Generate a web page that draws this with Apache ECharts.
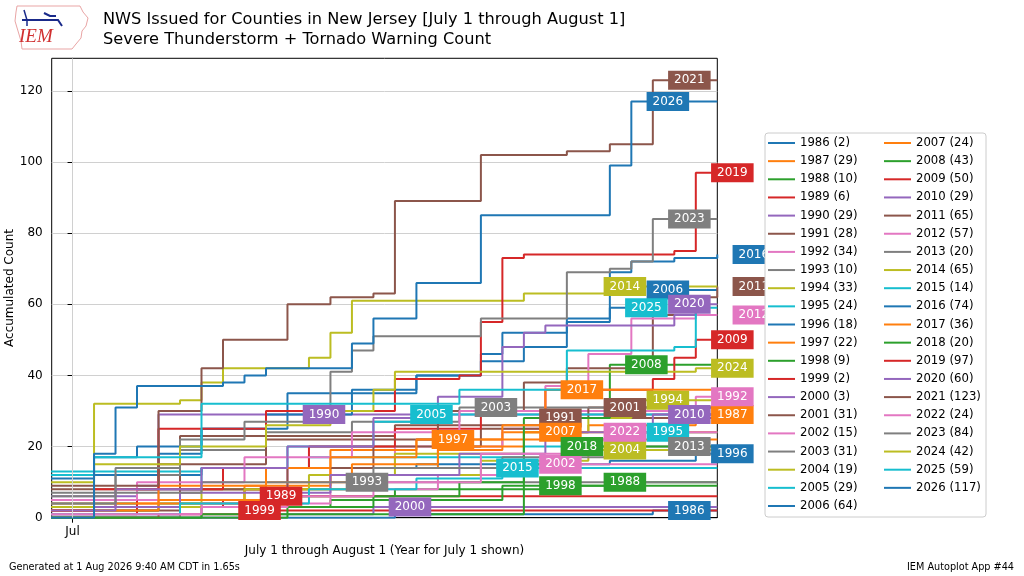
<!DOCTYPE html>
<html>
<head>
<meta charset="utf-8">
<title>NWS Warning Count</title>
<script src="https://cdn.jsdelivr.net/npm/echarts@6.0.0/dist/echarts.min.js"></script>
<style>
    html, body { margin: 0; padding: 0; background: #fff; }
    #chart { width: 1024px; height: 576px; }
</style>
</head>
<body>
<div id="chart"></div>
<script>
// years and final totals (from the legend)
var years = [1986, 1987, 1988, 1989, 1990, 1991, 1992, 1993, 1994, 1995,
    1996, 1997, 1998, 1999, 2000, 2001, 2002, 2003, 2004, 2005,
    2006, 2007, 2008, 2009, 2010, 2011, 2012, 2013, 2014, 2015,
    2016, 2017, 2018, 2019, 2020, 2021, 2022, 2023, 2024, 2025, 2026];
var totals = [2, 29, 10, 6, 29, 28, 34, 10, 33, 24,
    18, 22, 9, 2, 3, 31, 15, 31, 19, 29,
    64, 24, 43, 50, 29, 65, 57, 20, 65, 14,
    74, 36, 20, 97, 60, 123, 24, 84, 42, 59, 117];
// day (0 = Jul 1) where each year's tag is drawn
var labelDay = [28.7, 30.7, 25.7, 9.7, 11.7, 22.7, 30.7, 13.7, 27.7, 27.7,
    30.7, 17.7, 22.7, 8.7, 15.7, 25.7, 22.7, 19.7, 25.7, 16.7,
    27.7, 22.7, 26.7, 30.7, 28.7, 31.7, 31.7, 28.7, 25.7, 20.7,
    31.7, 23.7, 23.7, 30.7, 28.7, 28.7, 25.7, 28.7, 30.7, 26.7, 27.7];
var yTicks = [0, 20, 40, 60, 80, 100, 120];

// accumulated count steps: [day, count from that day on]
var y1986 = [[-1, 0], [15, 1], [27, 2]];
var y1987 = [[-1, 3], [2, 5], [8, 9], [12, 14], [17, 19], [20, 24], [24, 26], [29, 29]];
var y1988 = [[-1, 2], [4, 4], [9, 6], [15, 8], [20, 9], [25, 10]];
var y1989 = [[-1, 1], [3, 3], [7, 5], [9, 6]];
var y1990 = [[-1, 6], [3, 9], [4, 29]];
var y1991 = [[-1, 0], [5, 23], [15, 26], [22, 28]];
var y1992 = [[-1, 5], [4, 8], [10, 14], [15, 20], [20, 25], [23, 30], [29, 34]];
var y1993 = [[-1, 0], [5, 8], [13, 10]];
var y1994 = [[-1, 3], [6, 8], [11, 12], [15, 18], [21, 24], [24, 28], [26, 33]];
var y1995 = [[-1, 13], [6, 14], [11, 17], [21, 20], [25, 24]];
var y1996 = [[-1, 12], [6, 14], [16, 15], [25, 16], [29, 18]];
var y1997 = [[-1, 3], [2, 4], [8, 8], [12, 19], [16, 22]];
var y1998 = [[-1, 0], [6, 3], [12, 5], [20, 8], [23, 9]];
var y1999 = [[-1, 0], [4, 1], [8, 2]];
var y2000 = [[-1, 0], [8, 1], [14, 3]];
var y2001 = [[-1, 2], [5, 8], [10, 14], [14, 20], [19, 25], [22, 28], [24, 31]];
var y2002 = [[-1, 1], [6, 4], [12, 8], [17, 12], [21, 15]];
var y2003 = [[-1, 6], [2, 12], [5, 19], [9, 24], [13, 27], [18, 31]];
var y2004 = [[-1, 3], [8, 8], [13, 12], [19, 16], [24, 19]];
var y2005 = [[-1, 4], [3, 8], [6, 14], [10, 20], [14, 27], [16, 29]];
var y2006 = [[-1, 12], [4, 18], [6, 25], [10, 35], [16, 40], [19, 46], [20, 52], [23, 55], [25, 59], [27, 64]];
var y2007 = [[-1, 2], [4, 5], [9, 10], [13, 15], [17, 20], [21, 24]];
var y2008 = [[-1, 0], [6, 1], [21, 28], [25, 43]];
var y2009 = [[-1, 3], [3, 8], [7, 14], [11, 20], [15, 25], [19, 30], [22, 36], [27, 39], [28, 45], [29, 50]];
var y2010 = [[-1, 3], [5, 7], [12, 12], [18, 18], [22, 24], [27, 29]];
var y2011 = [[-1, 8], [4, 15], [9, 22], [17, 30], [21, 38], [23, 42], [27, 57], [29, 62], [30, 65]];
var y2012 = [[-1, 5], [3, 10], [8, 17], [13, 24], [18, 30], [22, 37], [24, 46], [26, 56], [29, 57]];
var y2013 = [[-1, 7], [6, 10], [14, 14], [20, 17], [26, 20]];
var y2014 = [[-1, 3], [1, 32], [5, 33], [6, 38], [7, 42], [11, 45], [12, 52], [13, 61], [21, 63], [25, 65]];
var y2015 = [[-1, 1], [5, 4], [11, 8], [16, 11], [20, 14]];
var y2016 = [[-1, 11], [1, 17], [3, 20], [6, 25], [9, 29], [13, 36], [16, 40], [19, 44], [21, 48], [23, 56], [25, 69], [26, 72], [28, 73], [30, 74]];
var y2017 = [[-1, 4], [4, 9], [9, 14], [12, 17], [16, 22], [20, 26], [22, 36]];
var y2018 = [[-1, 0], [10, 3], [14, 6], [18, 10], [21, 15], [23, 20]];
var y2019 = [[-1, 2], [1, 8], [4, 25], [9, 30], [15, 39], [18, 40], [19, 55], [20, 73], [21, 74], [28, 75], [29, 97]];
var y2020 = [[-1, 2], [2, 8], [6, 14], [10, 20], [14, 28], [17, 34], [20, 48], [21, 52], [22, 54], [28, 57], [29, 60]];
var y2021 = [[-1, 9], [4, 30], [6, 42], [7, 50], [10, 60], [12, 62], [14, 63], [15, 89], [19, 102], [23, 103], [25, 105], [27, 123]];
var y2022 = [[-1, 1], [6, 3], [10, 6], [14, 10], [19, 18], [23, 22], [25, 24]];
var y2023 = [[-1, 4], [2, 14], [5, 22], [8, 27], [12, 41], [13, 47], [14, 51], [19, 56], [23, 69], [25, 70], [26, 72], [27, 84]];
var y2024 = [[-1, 10], [1, 15], [5, 20], [9, 26], [12, 30], [14, 36], [15, 41], [29, 42]];
var y2025 = [[-1, 12], [1, 17], [6, 32], [18, 36], [23, 47], [28, 48], [29, 59]];
var y2026 = [[-1, 0], [1, 18], [2, 31], [3, 37], [7, 38], [8, 40], [9, 42], [13, 49], [14, 56], [16, 66], [19, 85], [25, 99], [26, 117]];

var stepData = [y1986, y1987, y1988, y1989, y1990, y1991, y1992, y1993, y1994, y1995,
    y1996, y1997, y1998, y1999, y2000, y2001, y2002, y2003, y2004, y2005,
    y2006, y2007, y2008, y2009, y2010, y2011, y2012, y2013, y2014, y2015,
    y2016, y2017, y2018, y2019, y2020, y2021, y2022, y2023, y2024, y2025, y2026];

var palette = ['#1f77b4', '#ff7f0e', '#2ca02c', '#d62728', '#9467bd',
    '#8c564b', '#e377c2', '#7f7f7f', '#bcbd22', '#17becf'];
var X_MIN = -0.97, X_END = 30;
var FONT = 'DejaVu Sans';

function $each(arr, fn) { for (var i = 0; i < arr.length; i++) fn(i, arr[i]); }

var series = [];
// dummy series only for the Jul grid line
series.push({
    type: 'line', data: [[0, 0]], symbol: 'none', silent: true, z: 1,
    lineStyle: {opacity: 0},
    markLine: {
        silent: true, symbol: 'none', label: {show: false},
        lineStyle: {color: '#d0d0d0', width: 1, type: 'solid'},
        data: [{xAxis: 0}]
    }
});
$each(years, function (i, yr) {
    var c = palette[i % 10];
    series.push({
        name: String(yr),
        type: 'line',
        step: 'end',
        symbol: 'none',
        showSymbol: false,
        z: 2,
        lineStyle: {width: 2, color: c},
        itemStyle: {color: c},
        data: stepData[i].concat([[X_END, totals[i]]])
    });
});

// year tags
var tagData = [];
$each(years, function (i, yr) {
    tagData.push({
        value: [labelDay[i], totals[i]],
        label: {backgroundColor: palette[i % 10]}
    });
});
series.push({
    type: 'scatter',
    clip: false,
    silent: true,
    z: 3,
    symbolSize: 1,
    itemStyle: {color: 'rgba(0,0,0,0)', opacity: 1},
    label: {
        show: true, position: 'inside', color: '#fff',
        fontFamily: FONT, fontSize: 12, padding: [4, 6, 3, 6],
        formatter: function (p) { return String(years[p.dataIndex]); }
    },
    data: tagData
});

function legendFmt(name) {
    return name + ' (' + totals[years.indexOf(Number(name))] + ')';
}
var legendBase = {
    orient: 'vertical', top: 137, z: 10, padding: 0,
    icon: 'rect', itemWidth: 27, itemHeight: 2, itemGap: 6.15,
    textStyle: {fontFamily: FONT, fontSize: 11.7, color: '#000', lineHeight: 12},
    formatter: legendFmt
};

var chart = echarts.init(document.getElementById('chart'));
var option = {
    animation: false,
    backgroundColor: '#fff',
    title: {
        text: 'NWS Issued for Counties in New Jersey [July 1 through August 1]\nSevere Thunderstorm + Tornado Warning Count',
        left: 103, top: 10, padding: 0,
        textStyle: {fontFamily: FONT, fontSize: 16.2, fontWeight: 'normal', color: '#000', lineHeight: 20}
    },
    legend: [
        Object.assign({}, legendBase, {left: 768, data: years.slice(0, 21).map(String)}),
        Object.assign({}, legendBase, {left: 884, data: years.slice(21).map(String)})
    ],
    grid: {
        left: 51.7, right: 306.7, top: 58.3, bottom: 58.3,
        outerBoundsMode: 'none', containLabel: false,
        show: true, borderColor: '#000', borderWidth: 1
    },
    xAxis: {
        type: 'value', min: X_MIN, max: X_END,
        name: 'July 1 through August 1 (Year for July 1 shown)',
        nameLocation: 'middle', nameGap: 27, nameMoveOverlap: false,
        nameTextStyle: {fontFamily: FONT, fontSize: 12, color: '#000'},
        axisLine: {show: true, onZero: false, lineStyle: {color: '#000'}},
        axisTick: {show: true, length: 5, customValues: [0], lineStyle: {color: '#000'}},
        axisLabel: {customValues: [0], formatter: function () { return 'Jul'; },
            fontFamily: FONT, fontSize: 12, color: '#000', margin: 8},
        splitLine: {show: false}
    },
    yAxis: {
        type: 'value', min: 0, max: 129.15, interval: 20,
        name: 'Accumulated Count',
        nameLocation: 'middle', nameGap: 36, nameMoveOverlap: false,
        nameTextStyle: {fontFamily: FONT, fontSize: 12, color: '#000'},
        axisLine: {show: true, lineStyle: {color: '#000'}},
        axisTick: {show: true, length: 5, customValues: yTicks, lineStyle: {color: '#000'}},
        axisLabel: {customValues: yTicks, fontFamily: FONT, fontSize: 12, color: '#000', margin: 9},
        splitLine: {show: true, lineStyle: {color: '#d0d0d0', width: 1}}
    },
    graphic: [
        // legend frame, drawn over the tags that spill past the axes
        {type: 'rect', z: 9, shape: {x: 765, y: 133, width: 221, height: 384, r: 3},
            style: {fill: '#fff', stroke: '#cccccc', lineWidth: 1}},
        // IEM logo
        {type: 'polygon', z: 5, shape: {points: [[17, 6], [80, 6], [83, 12], [88, 18], [86, 26], [82, 31],
            [81, 38], [76, 44], [72, 49], [22, 49], [21, 41], [18, 31], [15, 21], [16, 12]]},
            style: {fill: 'none', stroke: '#e9a5a5', lineWidth: 1}},
        {type: 'polyline', z: 5, shape: {points: [[22, 20], [58, 20], [62, 26]]},
            style: {stroke: '#1a2a8a', lineWidth: 2}},
        {type: 'polyline', z: 5, shape: {points: [[24, 10], [27, 20], [27, 26]]},
            style: {stroke: '#1a2a8a', lineWidth: 1.5}},
        {type: 'polyline', z: 5, shape: {points: [[44, 13], [50, 16], [56, 16]]},
            style: {stroke: '#1a2a8a', lineWidth: 2}},
        {type: 'text', z: 5, x: 19, y: 27,
            style: {text: 'IEM', fill: '#d03030', fontFamily: 'Liberation Serif', fontStyle: 'italic', fontSize: 19}},
        // footer
        {type: 'text', left: 9, top: 562,
            style: {text: 'Generated at 1 Aug 2026 9:40 AM CDT in 1.65s', fill: '#000', fontFamily: FONT, fontSize: 9.7}},
        {type: 'text', right: 10, top: 562,
            style: {text: 'IEM Autoplot App #44', fill: '#000', fontFamily: FONT, fontSize: 9.7}}
    ],
    series: series
};
chart.setOption(option);
</script>
</body>
</html>
